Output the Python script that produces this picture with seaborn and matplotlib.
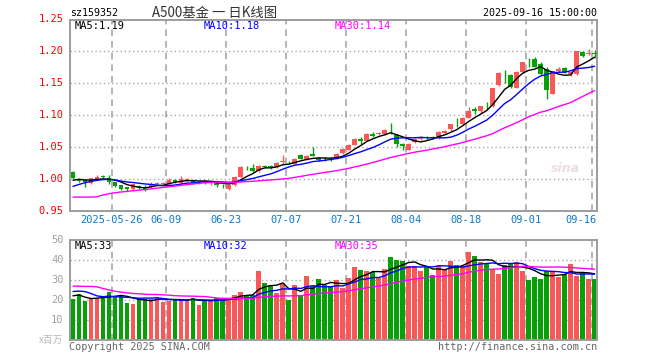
import matplotlib
matplotlib.use("Agg")
import matplotlib.pyplot as plt
import numpy as np
import pandas as pd
import seaborn as sns

# daily OHLC, 2025-05-15 .. 2025-09-16
open_ = [1.011, 0.999, 0.998, 0.994, 0.999, 1.005, 1.001, 0.995, 0.990, 0.987,
         0.984, 0.989, 0.988, 0.988, 0.993, 0.993, 0.993, 0.998, 0.994, 0.999,
         0.998, 0.995, 0.997, 0.995, 0.994, 0.991, 0.985, 0.990, 1.003, 1.018,
         1.017, 1.012, 1.020, 1.020, 1.019, 1.026, 1.027, 1.024, 1.038, 1.032,
         1.040, 1.033, 1.032, 1.032, 1.032, 1.041, 1.046, 1.054, 1.063, 1.060,
         1.071, 1.070, 1.070, 1.076, 1.069, 1.055, 1.046, 1.058, 1.063, 1.066,
         1.066, 1.064, 1.072, 1.078, 1.087, 1.086, 1.096, 1.110, 1.106, 1.115,
         1.114, 1.148, 1.168, 1.163, 1.143, 1.167, 1.190, 1.188, 1.180, 1.173,
         1.134, 1.169, 1.174, 1.164, 1.164, 1.1995, 1.196, 1.198]
high = [1.013, 1.001, 1.000, 1.002, 1.006, 1.007, 1.007, 0.996, 0.991, 0.988,
        0.993, 0.991, 0.990, 0.995, 0.996, 0.996, 1.001, 1.000, 1.005, 1.002,
        0.999, 0.997, 0.998, 0.998, 0.995, 0.992, 0.992, 1.005, 1.020, 1.020,
        1.024, 1.022, 1.022, 1.022, 1.026, 1.037, 1.028, 1.033, 1.039, 1.038,
        1.050, 1.035, 1.034, 1.034, 1.041, 1.048, 1.055, 1.064, 1.066, 1.072,
        1.073, 1.073, 1.078, 1.088, 1.070, 1.056, 1.056, 1.064, 1.067, 1.068,
        1.068, 1.075, 1.077, 1.087, 1.095, 1.097, 1.113, 1.113, 1.115, 1.121,
        1.143, 1.167, 1.171, 1.164, 1.169, 1.184, 1.190, 1.192, 1.183, 1.175,
        1.170, 1.175, 1.176, 1.169, 1.201, 1.201, 1.204, 1.203]
low = [1.000, 0.995, 0.988, 0.993, 0.998, 1.001, 0.993, 0.987, 0.983, 0.982,
       0.982, 0.984, 0.982, 0.986, 0.991, 0.992, 0.992, 0.994, 0.993, 0.997,
       0.992, 0.993, 0.993, 0.990, 0.988, 0.986, 0.983, 0.989, 1.002, 1.014,
       1.011, 1.011, 1.017, 1.016, 1.018, 1.024, 1.024, 1.023, 1.031, 1.030,
       1.036, 1.029, 1.029, 1.028, 1.031, 1.040, 1.045, 1.053, 1.055, 1.059,
       1.066, 1.069, 1.069, 1.070, 1.050, 1.046, 1.045, 1.057, 1.061, 1.062,
       1.063, 1.063, 1.071, 1.076, 1.082, 1.085, 1.095, 1.102, 1.104, 1.109,
       1.113, 1.146, 1.151, 1.142, 1.142, 1.166, 1.175, 1.175, 1.163, 1.126,
       1.133, 1.168, 1.166, 1.162, 1.163, 1.191, 1.194, 1.190]
close = [1.001, 0.997, 0.995, 1.001, 1.004, 1.004, 0.995, 0.989, 0.985, 0.984,
         0.992, 0.986, 0.984, 0.993, 0.994, 0.994, 0.999, 0.995, 1.000, 1.000,
         0.994, 0.996, 0.995, 0.996, 0.990, 0.990, 0.991, 1.004, 1.019, 1.017,
         1.012, 1.021, 1.019, 1.019, 1.025, 1.028, 1.026, 1.032, 1.032, 1.036,
         1.036, 1.030, 1.031, 1.031, 1.040, 1.047, 1.054, 1.063, 1.059, 1.071,
         1.068, 1.072, 1.077, 1.075, 1.055, 1.052, 1.055, 1.063, 1.066, 1.065,
         1.065, 1.074, 1.076, 1.086, 1.086, 1.096, 1.107, 1.106, 1.114, 1.114,
         1.142, 1.166, 1.167, 1.145, 1.168, 1.183, 1.189, 1.176, 1.165, 1.139,
         1.169, 1.173, 1.167, 1.168, 1.200, 1.193, 1.198, 1.196]
# volume, millions
volume = [20.5, 23.0, 19.7, 20.5, 20.8, 22.0, 24.0, 22.0, 22.5, 18.7,
          18.0, 20.5, 20.5, 20.5, 21.7, 19.2, 19.4, 20.5, 20.2, 20.2,
          21.2, 17.5, 19.8, 19.7, 21.0, 21.0, 21.0, 22.6, 24.2, 22.6,
          22.6, 34.7, 28.6, 27.5, 23.7, 28.3, 20.1, 27.6, 21.9, 32.1,
          27.0, 30.6, 27.3, 27.0, 30.0, 26.2, 31.1, 36.5, 35.1, 34.6,
          33.8, 31.0, 35.7, 41.6, 40.0, 39.5, 37.0, 37.0, 34.6, 36.3,
          32.6, 37.0, 35.1, 39.6, 37.6, 36.8, 44.2, 42.0, 39.1, 38.5,
          35.5, 33.0, 37.4, 38.4, 39.1, 34.4, 30.1, 31.5, 30.6, 34.4,
          34.1, 31.6, 33.0, 38.1, 32.1, 34.1, 30.6, 30.6]

# sessions before the window (only feed the moving averages)
prior_close = [0.995, 0.998, 0.997, 0.990, 0.920, 0.935, 0.945, 0.950, 0.955, 0.960,
               0.958, 0.960, 0.958, 0.960, 0.962, 0.963, 0.965, 0.964, 0.966, 0.965,
               0.967, 0.968, 0.980, 0.988, 0.992, 0.990, 1.000, 1.002, 0.998]
prior_volume = [25, 22, 21, 26, 48, 45, 42, 35, 30, 28,
                25, 27, 24, 22, 25, 24, 28, 24, 23, 22,
                21, 22, 30, 33, 26, 21, 25, 24, 20]

date_labels = ["2025-05-26", "06-09", "06-23", "07-07", "07-21",
               "08-04", "08-18", "09-01", "09-16"]
date_pos = [7, 16, 26, 36, 46, 56, 66, 76, 87]
price_ticks = [1.25, 1.20, 1.15, 1.10, 1.05, 1.00, 0.95]
vol_ticks = [50, 40, 30, 20, 10]

RED = "#f85858"
GREEN = "#08a008"
GRID = "#a8a8a8"
MA_COLORS = {"MA5": "black", "MA10": "#0000ff", "MA30": "#ff00ff"}

sns.set_theme(style="white")
plt.rcParams["font.family"] = ["DejaVu Sans Mono", "Noto Sans CJK SC"]

n = len(close)
idx = np.arange(n)
df = pd.DataFrame({"idx": idx, "open": open_, "high": high, "low": low,
                   "close": close, "vol": volume})
df["dir"] = np.where(df["close"] >= df["open"], "up", "down")
pal = {"up": RED, "down": GREEN}
colors = df["dir"].map(pal)


def moving(prior, values, name):
    s = pd.Series(list(prior) + list(values))
    out = {}
    for w in (5, 10, 30):
        out[f"MA{w}"] = s.rolling(w).mean().iloc[len(prior):].to_numpy()
    long = pd.DataFrame(out)
    long["idx"] = idx
    return long.melt(id_vars="idx", var_name="line", value_name=name)


fig = plt.figure(figsize=(6.6, 3.6), dpi=100)
W, H = 660, 360
ax = fig.add_axes([70 / W, 1 - 211 / H, 527 / W, 191.5 / H])
axv = fig.add_axes([70 / W, 1 - 340 / H, 527 / W, 100 / H])

# --- price panel
for v in [1.20, 1.15, 1.10, 1.05, 1.00]:
    ax.axhline(v, color=GRID, lw=1, ls=(0, (1, 2)), zorder=0)
for p in date_pos:
    ax.axvline(p - 0.5, color=GRID, lw=1.2, ls=(0, (4, 3)), zorder=0)

body_lo = np.minimum(df["open"], df["close"])
body_h = np.maximum(np.abs(df["close"] - df["open"]), 0.0009)
ax.vlines(idx, df["low"], df["high"], colors=colors, lw=1, zorder=2)
ax.bar(idx, body_h, bottom=body_lo, width=0.8, color=colors, lw=0, zorder=3)

ma_price = moving(prior_close, close, "price")
sns.lineplot(data=ma_price, x="idx", y="price", hue="line", palette=MA_COLORS,
             lw=1, legend=False, ax=ax, zorder=4)

ax.set_xlim(-0.5, 87.4)
ax.set_ylim(0.95, 1.25)
ax.set_xticks([])
ax.set_yticks([])
ax.set_xlabel("")
ax.set_ylabel("")

# --- volume panel
for v in [40, 30, 20, 10]:
    axv.axhline(v, color=GRID, lw=1, ls=(0, (1, 2)), zorder=0)
for p in date_pos:
    axv.axvline(p - 0.5, color=GRID, lw=1.2, ls=(0, (4, 3)), zorder=0)

axv.bar(idx, df["vol"], width=0.8, color=colors, lw=0, zorder=2,
        antialiased=False)
ma_vol = moving(prior_volume, volume, "vol")
sns.lineplot(data=ma_vol, x="idx", y="vol", hue="line", palette=MA_COLORS,
             lw=1, legend=False, ax=axv, zorder=4)
axv.set_xlim(-0.5, 87.4)
axv.set_ylim(0, 50)
axv.set_xticks([])
axv.set_yticks([])
axv.set_xlabel("")
axv.set_ylabel("")

for a in (ax, axv):
    for sp in a.spines.values():
        sp.set_visible(True)
        sp.set_color("#9c9c9c")
        sp.set_linewidth(1.4)

# axis labels
for v in price_ticks:
    ax.text(-0.012, v, f"{v:.2f}", transform=ax.get_yaxis_transform(),
            ha="right", va="center", color="red", fontsize=7.5)
for v in vol_ticks:
    axv.text(-0.012, v, f"{v}", transform=axv.get_yaxis_transform(),
             ha="right", va="center", color="#a0a0a0", fontsize=7.5)
axv.text(-0.012, 0, "x百万", transform=axv.get_yaxis_transform(),
         ha="right", va="center", color="#b8b8b8", fontsize=7,
         family=["Noto Sans CJK SC", "DejaVu Sans"])

trans = ax.get_xaxis_transform()
for lab, p in zip(date_labels, date_pos):
    if p == date_pos[-1]:
        ax.text(1.0, -0.048, lab, transform=ax.transAxes, ha="right",
                va="center", color="#0a78d2", fontsize=7.5)
    else:
        ax.text(p - 0.5, -0.048, lab, transform=trans, ha="center",
                va="center", color="#0a78d2", fontsize=7.5)

# header / legends / footer
fig.text(70 / W, 1 - 13 / H, "sz159352", ha="left", va="center",
         fontsize=7.2, color="black")
fig.text(152 / W, 1 - 13 / H, "A500基金 一 日K线图", ha="left", va="center",
         fontsize=9.6, color="#333333", family=["Noto Sans CJK SC", "DejaVu Sans"])
fig.text(597 / W, 1 - 13 / H, "2025-09-16 15:00:00", ha="right", va="center",
         fontsize=7.2, color="black")

for x, txt, c in [(75, "MA5:1.19", "black"), (204, "MA10:1.18", "#0000ff"),
                  (335, "MA30:1.14", "#ff00ff")]:
    fig.text(x / W, 1 - 26 / H, txt, ha="left", va="center", fontsize=7.5, color=c)
for x, txt, c in [(75, "MA5:33", "black"), (204, "MA10:32", "#0000ff"),
                  (335, "MA30:35", "#ff00ff")]:
    fig.text(x / W, 1 - 246 / H, txt, ha="left", va="center", fontsize=7.5, color=c)

fig.text(69 / W, 1 - 347 / H, "Copyright 2025 SINA.COM", ha="left", va="center",
         fontsize=7.3, color="#666666")
fig.text(597 / W, 1 - 347 / H, "http://finance.sina.com.cn", ha="right",
         va="center", fontsize=7.3, color="#666666")
fig.text(565 / W, 1 - 168 / H, "sina", ha="center", va="center", fontsize=9,
         color="#ecdede", fontweight="bold", style="italic", family="DejaVu Sans")

fig.savefig("out.png", dpi=100, facecolor="white")
